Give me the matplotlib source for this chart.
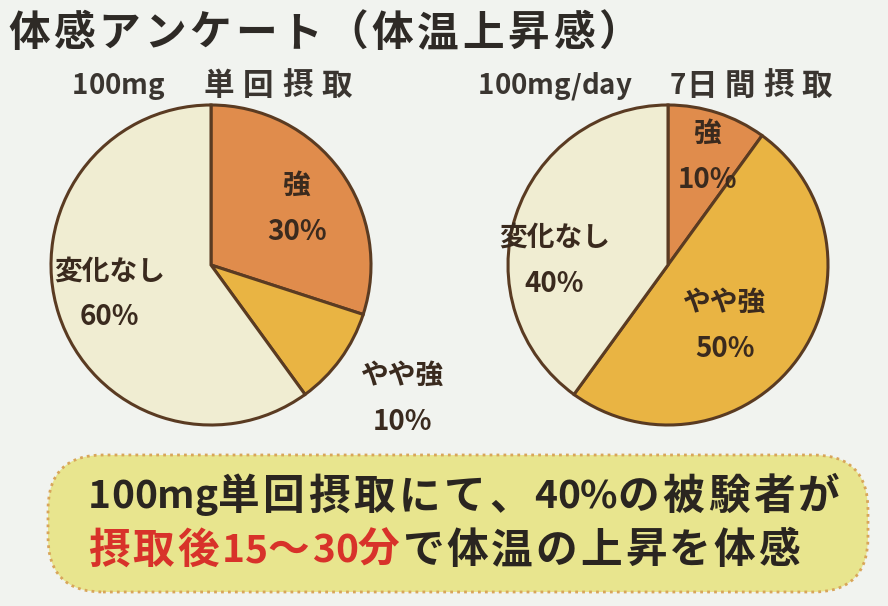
import matplotlib
matplotlib.use("Agg")
import matplotlib.pyplot as plt
from matplotlib.patches import FancyBboxPatch
import numpy as np
import unicodedata

plt.rcParams['font.family'] = ['Noto Sans CJK JP', 'DejaVu Sans']

title = "体感アンケート（体温上昇感）"
left_title = "100mg　単回摂取"
right_title = "100mg/day　7日間摂取"
categories = ["強", "やや強", "変化なし"]
left_values = [30, 10, 60]
right_values = [10, 50, 40]
colors = ["#E08C4C", "#E9B443", "#F0EDD2"]
note_line1 = "100mg単回摂取にて、40%の被験者が"
note_line2_red = "摂取後15～30分"
note_line2_black = "で体温の上昇を体感"

W, H = 888, 606
bg = "#F1F3EF"
fig = plt.figure(figsize=(W / 100, H / 100), dpi=100)
fig.patch.set_facecolor(bg)
ax = fig.add_axes([0, 0, 1, 1])
ax.set_facecolor(bg)

def Y(py):
    return H - py

edge = "#5A3B22"
R = 160
left_c = (211, Y(265))
right_c = (668, Y(265))

for vals, c in ((left_values, left_c), (right_values, right_c)):
    ax.pie(vals, colors=colors, startangle=90, counterclock=False,
           center=c, radius=R, frame=True,
           wedgeprops=dict(edgecolor=edge, linewidth=2.2))

ax.set_xlim(0, W)
ax.set_ylim(0, H)
ax.set_aspect("auto")
ax.axis("off")

def place(c, dist, ang, name, val, fs=20):
    x = c[0] + dist * R * np.cos(np.radians(ang))
    y = c[1] + dist * R * np.sin(np.radians(ang))
    ax.text(x, y + 23, name, ha="center", va="center", fontsize=fs,
            fontweight="bold", color="#3A2A1E")
    ax.text(x, y - 23, f"{val}%", ha="center", va="center", fontsize=fs,
            fontweight="bold", color="#3A2A1E")

place(left_c, 0.64, 33, categories[0], left_values[0])
place(left_c, 1.46, -35, categories[1], left_values[1])
place(left_c, 0.66, 196, categories[2], left_values[2])
place(right_c, 0.72, 70, categories[0], right_values[0])
place(right_c, 0.52, -47, categories[1], right_values[1])
place(right_c, 0.71, 178, categories[2], right_values[2])

fig.canvas.draw()
renderer = fig.canvas.get_renderer()

def is_wide(ch):
    return unicodedata.east_asian_width(ch) in ("W", "F")

def tracked(x0, x1, py, segments, fs, fs_wide):
    """Draw text char by char; extra spacing only after full-width chars."""
    objs = []
    for s, col in segments:
        for ch in s:
            size = fs_wide if is_wide(ch) else fs
            t = ax.text(0, Y(py), ch, ha="left", va="center", fontsize=size,
                        fontweight="bold", color=col)
            objs.append((t, ch, size))
    widths = []
    for t, ch, size in objs:
        if ch == "　":
            widths.append(size * 100 / 72)
        else:
            widths.append(t.get_window_extent(renderer=renderer).width)
    n_wide = sum(1 for (t, ch, s) in objs[:-1] if is_wide(ch))
    gap = (x1 - x0 - sum(widths)) / max(n_wide, 1)
    x = x0
    for (t, ch, s), w in zip(objs, widths):
        t.set_x(x)
        x += w + (gap if is_wide(ch) else 0)

dark = "#2E2A26"
tracked(8, 640, 34, [(title, dark)], 29, 30)
tracked(72, 352, 86, [(left_title, "#3A3530")], 20, 22)
tracked(478, 832, 86, [(right_title, "#3A3530")], 20, 22)

box = FancyBboxPatch((48, Y(592)), 820, 137,
                     boxstyle="round,pad=0,rounding_size=55",
                     facecolor="#E8E58E", edgecolor="#D8A55A",
                     linewidth=2, linestyle=(0, (1, 1.5)))
ax.add_patch(box)

tracked(88, 840, 497, [(note_line1, "#2A2520")], 28, 30)
tracked(88, 800, 551, [(note_line2_red, "#D8322A"),
                       (note_line2_black, "#2A2520")], 28, 30)

fig.savefig("out.png", dpi=100, facecolor=fig.get_facecolor())
